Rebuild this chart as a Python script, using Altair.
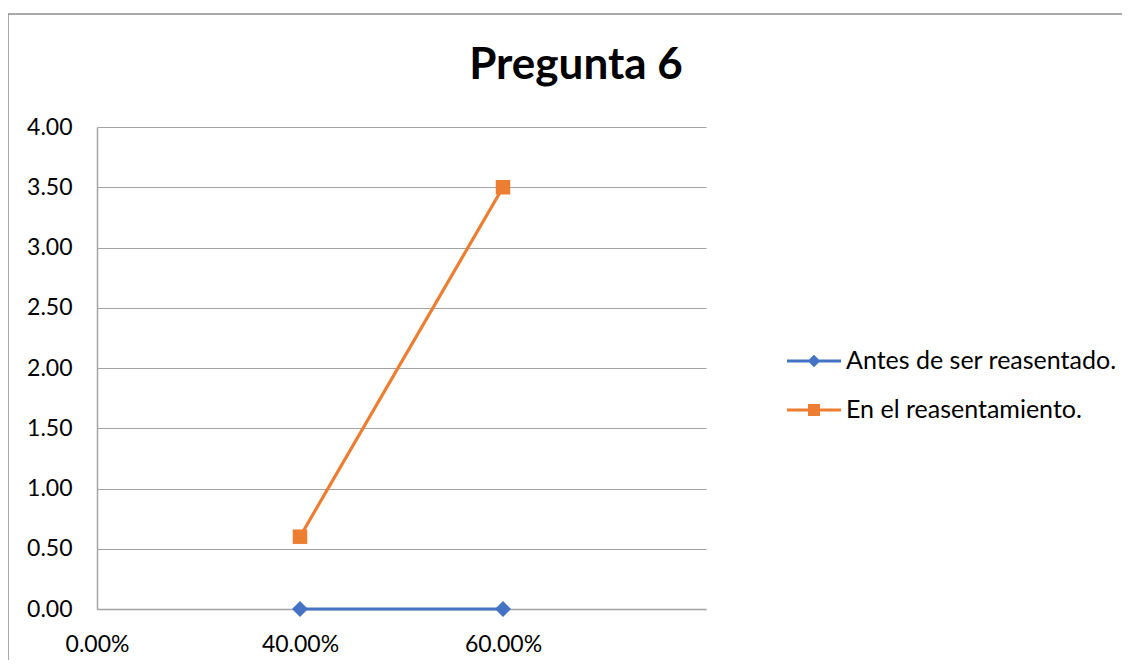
import json
import altair as alt
import pandas as pd

# ---- data ----
title_text = "Pregunta 6"
series = ["Antes de ser reasentado.", "En el reasentamiento."]
colors = ["#4472C4", "#ED7D31"]
x_labels = ["0.00%", "40.00%", "60.00%"]
x_cats = ["40.00%", "60.00%"]
antes = [0.0, 0.0]
reasentamiento = [0.6, 3.5]
y_ticks = [0.0, 0.5, 1.0, 1.5, 2.0, 2.5, 3.0, 3.5, 4.0]

rows = []
for name, vals in zip(series, [antes, reasentamiento]):
    for cat, v in zip(x_cats, vals):
        rows.append({"serie": name, "x": x_labels.index(cat), "cat": cat, "v": v})
df = pd.DataFrame(rows)

FONT = "Lato"
FS = 23
GRAY = "#A3A3A3"

x_enc = alt.X(
    "x:Q",
    scale=alt.Scale(domain=[0, 3], nice=False, zero=False),
    axis=alt.Axis(
        values=[0, 1, 2],
        labelExpr=json.dumps(x_labels) + "[datum.value]",
        grid=False,
        ticks=False,
        domainColor=GRAY,
        domainWidth=1.5,
        labelFont=FONT,
        labelFontSize=FS,
        labelColor="#000000",
        labelPadding=24,
        labelAlign="center",
        labelBaseline="top",
        labelFlush=False,
        labelOverlap=False,
        title=None,
    ),
)
y_enc = alt.Y(
    "v:Q",
    scale=alt.Scale(domain=[0, 4], nice=False),
    axis=alt.Axis(
        values=y_ticks,
        format=".2f",
        grid=True,
        gridColor=GRAY,
        gridWidth=1.2,
        ticks=False,
        domainColor=GRAY,
        domainWidth=1.5,
        labelFont=FONT,
        labelFontSize=FS,
        labelColor="#000000",
        labelPadding=25,
        labelFlush=False,
        labelOverlap=False,
        title=None,
    ),
)
color_scale = alt.Scale(domain=series, range=colors)

line = alt.Chart(df).mark_line(strokeWidth=3.2).encode(
    x=x_enc, y=y_enc,
    color=alt.Color("serie:N", scale=color_scale, legend=None),
    detail="serie:N",
)

diamond = "M0,-1.1L1.1,0L0,1.1L-1.1,0Z"
points = alt.Chart(df).mark_point(filled=True, opacity=1, size=210).encode(
    x=x_enc, y=y_enc,
    color=alt.Color("serie:N", scale=color_scale, legend=None),
    shape=alt.Shape("serie:N", scale=alt.Scale(domain=series, range=[diamond, "square"]), legend=None),
)

path_diamond = "M-1.8,-0.1L1.8,-0.1L1.8,0.1L-1.8,0.1Z M0,-0.42L0.42,0L0,0.42L-0.42,0Z"
path_square = "M-1.8,-0.1L1.8,-0.1L1.8,0.1L-1.8,0.1Z M-0.4,-0.4L0.4,-0.4L0.4,0.4L-0.4,0.4Z"

legend_props = dict(
    title=None,
    orient="none",
    legendX=702,
    legendY=219,
    padding=0,
    symbolSize=900,
    symbolOpacity=1,
    symbolStrokeWidth=0,
    labelFont=FONT,
    labelFontSize=25,
    labelColor="#000000",
    labelOffset=17,
    labelLimit=0,
    rowPadding=21,
)

legend_layer = alt.Chart(df).mark_point(filled=True, opacity=0, size=1).encode(
    x=x_enc, y=y_enc,
    color=alt.Color("serie:N", scale=color_scale, legend=alt.Legend(**legend_props)),
    shape=alt.Shape("serie:N", scale=alt.Scale(domain=series, range=[path_diamond, path_square]),
                    legend=alt.Legend(**legend_props)),
)

one = pd.DataFrame({"t": [title_text]})
title_mark = alt.Chart(one).mark_text(
    font=FONT, fontSize=44, fontWeight="bold", color="#000000",
    align="center", baseline="alphabetic",
).encode(x=alt.value(479), y=alt.value(-48), text="t:N")

border_top = alt.Chart(one).mark_rule(color="#8C8C8C", strokeWidth=1.5).encode(
    x=alt.value(-90), x2=alt.value(1100), y=alt.value(-113)
)
border_left = alt.Chart(one).mark_rule(color="#8C8C8C", strokeWidth=1.5).encode(
    x=alt.value(-89), y=alt.value(-113), y2=alt.value(600)
)

chart = alt.layer(
    border_top, border_left, line, points, legend_layer, title_mark
).resolve_scale(
    color="independent", shape="independent"
).properties(
    width=609, height=482,
    padding={"left": 89, "top": 119, "right": 416, "bottom": 51},
    autosize=alt.AutoSizeParams(type="none"),
    background="#FFFFFF",
).configure_view(stroke=None)

chart.save("out.html", embed_options={"renderer": "svg", "actions": False})
